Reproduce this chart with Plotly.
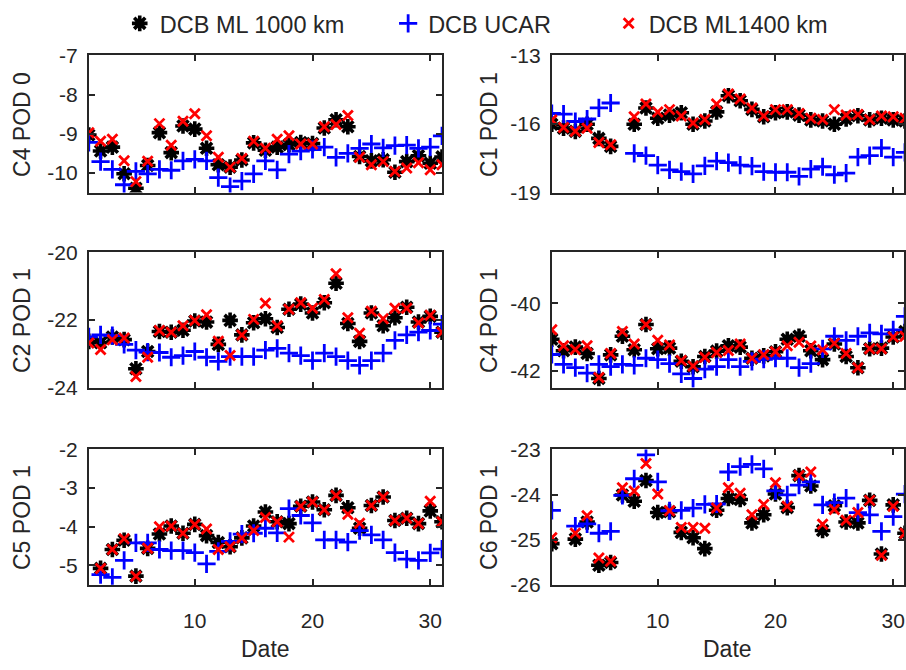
import plotly.graph_objects as go

# Daily DCB estimates (ns) for six satellite/POD combinations
days = list(range(1, 32))

# C4 POD 0
c4p0_ml1000 = [-9.03, -9.44, -9.34, -10.02, -10.39, -9.81, -8.97, -9.48, -8.80, -8.88, -9.37, -9.79, -9.85, -9.67, -9.23, -9.42,
               -9.34, -9.28, -9.22, -9.25, -8.85, -8.64, -8.82, -9.58, -9.69, -9.66, -9.98, -9.71, -9.56, -9.75, -9.59]
c4p0_ucar = [-9.22, -9.71, -9.91, -10.30, -9.96, -10.02, -9.91, -9.93, -9.69, -9.65, -9.69, -10.12, -10.35, -10.21, -10.02, -9.69,
             -9.92, -9.52, -9.44, -9.40, -9.34, -9.60, -9.50, -9.37, -9.26, -9.36, -9.30, -9.29, -9.37, -9.34, -9.05]
c4p0_ml1400 = [-8.97, -9.19, -9.14, -9.69, -10.22, -9.70, -8.74, -9.29, -8.68, -8.49, -9.05, -9.60, -9.85, -9.63, -9.19, -9.37,
               -9.14, -9.05, -9.26, -9.26, -8.82, -8.76, -8.53, -9.60, -9.79, -9.71, -9.96, -9.87, -9.74, -9.92, -9.79]

# C1 POD 1
c1p1_ml1000 = [-16.01, -16.18, -16.32, -16.01, -16.63, -16.98, None, -16.01, -15.30, -15.75, -15.61, -15.51, -16.01, -15.87, -15.47,
               -14.76, -14.98, -15.36, -15.68, -15.51, -15.47, -15.61, -15.82, -15.87, -16.01, -15.78, -15.64, -15.82, -15.75,
               -15.82, -15.87]
c1p1_ucar = [-15.54, -15.57, -15.89, -15.78, -15.29, -15.08, None, -17.28, -17.38, -17.80, -18.01, -18.08, -18.18, -17.83, -17.62,
             -17.69, -17.80, -17.84, -18.08, -18.11, -18.11, -18.29, -17.97, -17.87, -18.22, -18.15, -17.45, -17.38, -17.05,
             -17.45, -17.24]
c1p1_ml1400 = [-15.82, -16.15, -16.32, -16.18, -16.81, -16.91, None, -15.68, -15.12, -15.47, -15.37, -15.65, -15.96, -15.80, -15.12,
               -14.69, -14.91, -15.30, -15.65, -15.37, -15.37, -15.54, -15.75, -15.80, -15.37, -15.61, -15.58, -15.80, -15.65,
               -15.68, -15.75]

# C2 POD 1
c2p1_ml1000 = [-22.63, -22.67, -22.50, -22.58, -23.44, -22.93, -22.34, -22.36, -22.30, -22.03, -22.06, -22.72, -22.01, -22.44,
               -22.08, -21.96, -22.22, -21.68, -21.53, -21.79, -21.49, -20.91, -22.10, -22.63, -21.79, -22.17, -21.93, -21.62,
               -22.06, -21.89, -22.36]
c2p1_ucar = [-22.50, -22.44, -22.46, -22.72, -22.89, -22.95, -22.96, -23.10, -23.05, -22.93, -23.10, -23.22, -23.08, -23.08,
             -23.08, -22.89, -22.84, -22.98, -23.05, -23.20, -22.98, -23.08, -23.20, -23.34, -23.20, -22.98, -22.60, -22.44,
             -22.36, -22.31, -22.12]
c2p1_ml1400 = [-22.68, -22.87, -22.58, -22.53, -23.67, -23.10, -22.31, -22.36, -22.17, -22.01, -21.84, -22.63, -23.05, -22.44,
               -21.98, -21.50, -22.17, -21.68, -21.49, -21.65, -21.39, -20.63, -21.93, -22.39, -21.74, -21.96, -21.65, -21.65,
               -22.08, -21.86, -22.36]

# C4 POD 1
c4p1_ml1000 = [-41.07, -41.41, -41.30, -41.49, -42.23, -41.53, -40.98, -41.38, -40.63, -41.35, -41.33, -41.72, -41.88, -41.58,
               -41.42, -41.26, -41.30, -41.63, -41.56, -41.44, -41.07, -40.98, -41.41, -41.67, -41.21, -41.58, -41.91, -41.35,
               -41.33, -41.00, -40.84]
c4p1_ucar = [-41.52, -41.81, -41.91, -42.07, -41.81, -41.88, -41.81, -41.84, -41.63, -41.67, -41.79, -42.09, -42.23, -41.95,
             -41.88, -41.67, -41.88, -41.72, -41.66, -41.63, -41.63, -41.91, -41.79, -41.35, -40.98, -41.10, -40.98, -40.88,
             -40.91, -40.79, -40.39]
c4p1_ml1400 = [-40.79, -41.26, -41.37, -41.26, -42.20, -41.49, -40.84, -41.21, -40.63, -41.10, -41.24, -41.70, -41.86, -41.60,
               -41.46, -41.40, -41.21, -41.63, -41.53, -41.44, -41.26, -41.16, -41.27, -41.38, -41.19, -41.49, -41.91, -41.35,
               -41.35, -41.00, -40.98]

# C5 POD 1
c5p1_ml1000 = [None, -5.08, -4.59, -4.35, -5.28, -4.56, -4.19, -3.98, -4.17, -3.94, -4.23, -4.41, -4.52, -4.29, -3.98, -3.62,
               -3.87, -3.92, -3.47, -3.36, -3.56, -3.19, -3.51, -4.04, -3.45, -3.23, -3.84, -3.78, -3.92, -3.59, -3.87]
c5p1_ucar = [None, -5.24, -5.31, -4.87, -4.42, -4.42, -4.59, -4.62, -4.62, -4.67, -4.96, -4.64, -4.38, -4.19, -4.17, -4.04,
             -4.16, -3.53, -3.71, -3.90, -4.34, -4.34, -4.40, -4.10, -4.21, -4.34, -4.67, -4.84, -4.87, -4.68, -4.58]
c5p1_ml1400 = [None, -5.08, -4.59, -4.31, -5.28, -4.56, -4.00, -3.98, -4.17, -3.94, -4.06, -4.59, -4.52, -4.29, -4.10, -3.76,
               -3.87, -4.27, -3.47, -3.36, -3.56, -3.19, -3.68, -3.91, -3.45, -3.23, -3.84, -3.78, -3.92, -3.34, -3.87]

# C6 POD 1
c6p1_ml1000 = [-25.09, None, -24.99, -24.61, -25.57, -25.51, -24.01, -24.15, -23.69, -24.40, -24.38, -24.84, -24.96, -25.20,
               -24.35, -24.09, -24.11, -24.63, -24.45, -23.99, -24.29, -23.58, -23.81, -24.80, -24.25, -24.61, -24.63, -24.13,
               -25.32, -24.23, -24.86]
c6p1_ucar = [-24.35, None, -24.70, -24.65, -24.86, -24.82, -24.02, -23.65, -23.12, -23.72, -24.36, -24.35, -24.30, -24.22,
             -24.21, -23.50, -23.38, -23.33, -23.43, -23.92, -24.01, -23.79, -23.72, -24.23, -24.18, -24.08, -24.40, -24.45,
             -24.82, -24.49, -23.99]
c6p1_ml1400 = [-24.96, None, -24.86, -24.47, -25.41, -25.48, -23.85, -23.92, -23.31, -23.99, -24.36, -24.73, -24.73, -24.75,
               -24.30, -23.85, -23.97, -24.45, -24.22, -23.74, -24.26, -23.58, -23.50, -24.66, -24.33, -24.57, -24.40, -24.13,
               -25.35, -24.26, -24.86]

series_names = ["DCB ML 1000 km", "DCB UCAR", "DCB ML1400 km"]
x_ticks = [10, 20, 30]

panels = [
    dict(title="C4 POD 0", data=(c4p0_ml1000, c4p0_ucar, c4p0_ml1400), yr=[-10.5, -7], yt=[-10, -9, -8, -7]),
    dict(title="C1 POD 1", data=(c1p1_ml1000, c1p1_ucar, c1p1_ml1400), yr=[-19, -13], yt=[-19, -16, -13]),
    dict(title="C2 POD 1", data=(c2p1_ml1000, c2p1_ucar, c2p1_ml1400), yr=[-24, -20], yt=[-24, -22, -20]),
    dict(title="C4 POD 1", data=(c4p1_ml1000, c4p1_ucar, c4p1_ml1400), yr=[-42.5, -38.5], yt=[-42, -40]),
    dict(title="C5 POD 1", data=(c5p1_ml1000, c5p1_ucar, c5p1_ml1400), yr=[-5.5, -2], yt=[-5, -4, -3, -2]),
    dict(title="C6 POD 1", data=(c6p1_ml1000, c6p1_ucar, c6p1_ml1400), yr=[-26, -23], yt=[-26, -25, -24, -23]),
]

W, H = 906, 670
FONT = "Liberation Sans, Arial, Helvetica, sans-serif"
AX = "#262626"
TXT = "#262626"

# pixel boxes of the panels
col_x = [(89, 443), (553, 906)]
row_y = [(45, 187), (249, 389), (453, 593)]

styles = [
    dict(symbol="asterisk-open", size=13, color="black", line=dict(color="black", width=3.6)),
    dict(symbol="cross-thin-open", size=13, color="#0000ff", line=dict(color="#0000ff", width=2.8)),
    dict(symbol="x-thin-open", size=10, color="#ff0000", line=dict(color="#ff0000", width=2.8)),
]
legend_ids = ["legend", "legend2", "legend3"]

fig = go.Figure()
layout = {}
annotations = []

for i, p in enumerate(panels):
    r, c = divmod(i, 2)
    n = "" if i == 0 else str(i + 1)
    x0, x1 = col_x[c]
    y0, y1 = row_y[r]
    xr = [1, 31] if c == 0 else [1, 1 + (x1 - x0) / (354 / 30)]
    for s, (vals, st) in enumerate(zip(p["data"], styles)):
        fig.add_trace(go.Scatter(
            x=days, y=vals, mode="markers", name=series_names[s],
            marker=st, xaxis="x" + n, yaxis="y" + n,
            showlegend=(i == 0), legend=legend_ids[s],
        ))
    common = dict(showline=True, linecolor=AX, linewidth=2, mirror="ticks", ticks="inside",
                  ticklen=6, tickwidth=1.5, tickcolor=AX, showgrid=False, zeroline=False,
                  tickfont=dict(family=FONT, size=21, color=TXT))
    layout["xaxis" + n] = dict(common, domain=[x0 / W, x1 / W], range=xr, tickvals=x_ticks,
                               ticktext=[str(t) for t in x_ticks],
                               showticklabels=(r == 2), anchor="y" + n, ticklabelstandoff=16)
    layout["yaxis" + n] = dict(common, domain=[1 - y1 / H, 1 - y0 / H], range=p["yr"], tickvals=p["yt"],
                               ticktext=["%g" % t for t in p["yt"]],
                               anchor="x" + n, ticklabelstandoff=5)
    # y-axis title
    tx = 22 if c == 0 else 490
    annotations.append(dict(text=p["title"], x=tx / W, y=1 - (y0 + y1) / 2 / H, xref="paper", yref="paper",
                            textangle=-90, showarrow=False, xanchor="center", yanchor="middle",
                            font=dict(family=FONT, size=23, color=TXT)))
    if r == 2:
        annotations.append(dict(text="Date", x=(x0 + x1) / 2 / W, y=0, xref="paper", yref="paper",
                                showarrow=False, xanchor="center", yanchor="bottom", yshift=-5,
                                font=dict(family=FONT, size=23, color=TXT)))

legend_x = [120, 389, 610]
for lid, lx in zip(legend_ids, legend_x):
    layout[lid] = dict(x=lx / W, y=1 - 12 / H, xanchor="left", yanchor="middle", orientation="h",
                       bgcolor="rgba(0,0,0,0)", font=dict(family=FONT, size=23.5, color=TXT))

fig.update_layout(**layout)
fig.update_layout(width=W, height=H, margin=dict(l=0, r=0, t=0, b=0), plot_bgcolor="white",
                  paper_bgcolor="white", annotations=annotations)

fig.write_html("out.html")
